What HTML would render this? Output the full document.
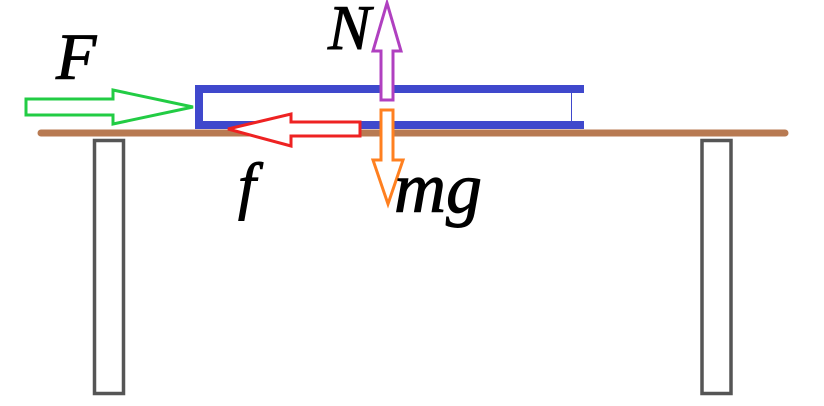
<!DOCTYPE html>
<html><head><style>
html,body{margin:0;padding:0;background:#fff;}
svg{display:block;}
text{font-family:"Liberation Serif",serif;font-style:italic;fill:#000;stroke:#000;stroke-width:1;}
</style></head><body>
<svg width="824" height="406" viewBox="0 0 824 406" xmlns="http://www.w3.org/2000/svg">
<line x1="41" y1="133" x2="785" y2="133" stroke="#b87a52" stroke-width="7" stroke-linecap="round"/>
<rect x="94.5" y="140.5" width="29" height="253" fill="none" stroke="#555" stroke-width="3.5"/>
<rect x="702" y="140.5" width="29" height="253" fill="none" stroke="#555" stroke-width="3.5"/>
<rect x="195" y="85" width="389" height="8" fill="#3f48cc"/>
<rect x="195" y="121" width="389" height="8" fill="#3f48cc"/>
<rect x="195" y="85" width="8" height="44" fill="#3f48cc"/>
<line x1="571.5" y1="93" x2="571.5" y2="121" stroke="#3f48cc" stroke-width="1"/>
<polygon points="26,99 113,99 113,90 193,107 113,124 113,115 26,115" fill="#fff" stroke="#22cc44" stroke-width="3"/>
<polygon points="360,122 291,122 291,114 228,129 291,146 291,136 360,136" fill="#fff" stroke="#ee2222" stroke-width="3"/>
<polygon points="381,100 381,51 373,51 387,3 401,51 393,51 393,100" fill="#fff" stroke="#b040c0" stroke-width="3"/>
<polygon points="381,110 393,110 393,160 403,160 388,204 373,160 381,160" fill="#fff" stroke="#ff8020" stroke-width="3"/>
<text x="56" y="79" font-size="66">F</text>
<text x="328" y="49" font-size="64">N</text>
<text x="238" y="207" font-size="64">f</text>
<text x="394" y="212" font-size="72">mg</text>
</svg>
</body></html>
